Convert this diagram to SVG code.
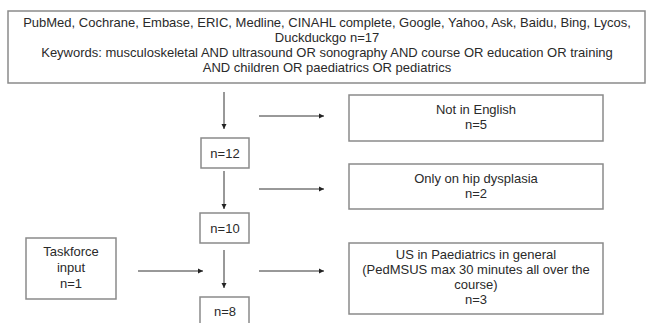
<svg xmlns="http://www.w3.org/2000/svg" width="646" height="323" viewBox="0 0 646 323">
<style>
.box{fill:#fff;stroke:#8a8a8a;stroke-width:1.5}
.t{font-family:"Liberation Sans",Arial,sans-serif;font-size:13px;fill:#2a2a2a;text-anchor:middle}
.c{stroke:#333;stroke-width:1;fill:none;marker-end:url(#ah)}
</style>
<defs>
<marker id="ah" markerUnits="userSpaceOnUse" markerWidth="6" markerHeight="6" refX="5" refY="3" orient="auto">
<path d="M0,0.5 L5,3 L0,5.5 Z" fill="#222"/>
</marker>
</defs>
<rect width="646" height="323" fill="#fff"/>
<g id="sources">
<rect class="box" x="8" y="11" width="637" height="72"/>
<text class="t" x="327" y="27">PubMed, Cochrane, Embase, ERIC, Medline, CINAHL complete, Google, Yahoo, Ask, Baidu, Bing, Lycos,</text>
<text class="t" x="327" y="42">Duckduckgo n=17</text>
<text class="t" x="327" y="57">Keywords: musculoskeletal AND ultrasound OR sonography AND course OR education OR training</text>
<text class="t" x="327" y="72">AND children OR paediatrics OR pediatrics</text>
</g>
<g id="n12">
<rect class="box" x="201" y="138" width="48" height="30"/>
<text class="t" x="225" y="158">n=12</text>
</g>
<g id="n10">
<rect class="box" x="200" y="213" width="49" height="30"/>
<text class="t" x="225" y="233">n=10</text>
</g>
<g id="n8">
<rect class="box" x="200" y="297" width="49" height="32"/>
<text class="t" x="225" y="316">n=8</text>
</g>
<g id="notEnglish">
<rect class="box" x="349" y="95" width="254" height="46"/>
<text class="t" x="476" y="114">Not in English</text>
<text class="t" x="476" y="129">n=5</text>
</g>
<g id="hip">
<rect class="box" x="349" y="164" width="254" height="45"/>
<text class="t" x="476" y="183">Only on hip dysplasia</text>
<text class="t" x="476" y="198">n=2</text>
</g>
<g id="general">
<rect class="box" x="349" y="243" width="254" height="71"/>
<text class="t" x="476" y="259">US in Paediatrics in general</text>
<text class="t" x="476" y="274">(PedMSUS max 30 minutes all over the</text>
<text class="t" x="476" y="289">course)</text>
<text class="t" x="476" y="304">n=3</text>
</g>
<g id="taskforce">
<rect class="box" x="26" y="238" width="90" height="61"/>
<text class="t" x="71" y="256">Taskforce</text>
<text class="t" x="71" y="272">input</text>
<text class="t" x="71" y="288">n=1</text>
</g>
<g id="connectors">
<line class="c" x1="224" y1="92" x2="224" y2="129"/>
<line class="c" x1="224" y1="171" x2="224" y2="209"/>
<line class="c" x1="224" y1="250" x2="224" y2="288"/>
<line class="c" x1="259" y1="116" x2="324" y2="116"/>
<line class="c" x1="259" y1="189" x2="324" y2="189"/>
<line class="c" x1="259" y1="271" x2="324" y2="271"/>
<line class="c" x1="138" y1="271" x2="203" y2="271"/>
</g>
</svg>
